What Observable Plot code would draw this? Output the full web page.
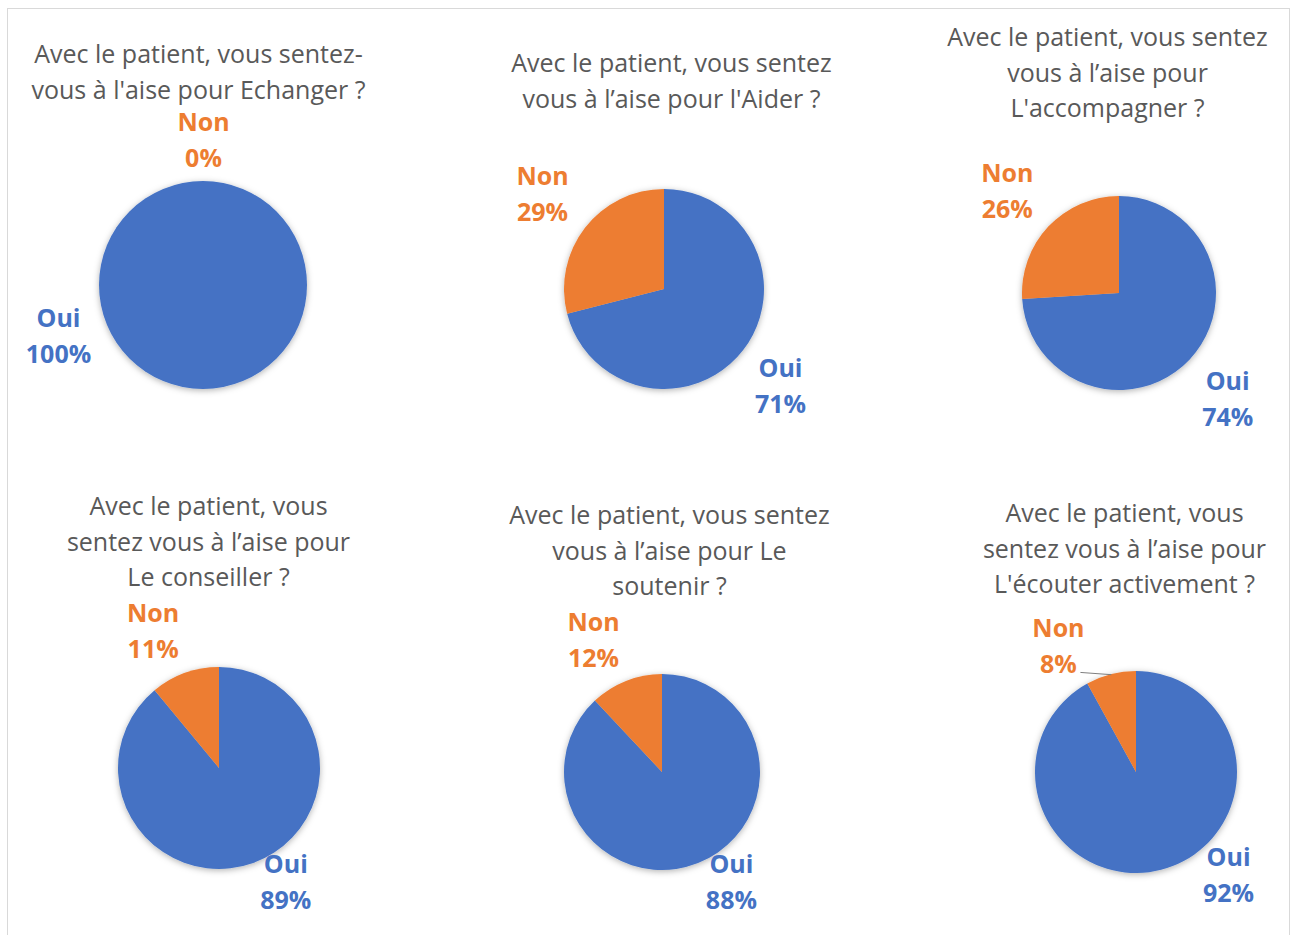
<!DOCTYPE html>
<html><head><meta charset="utf-8">
<script src="https://cdn.jsdelivr.net/npm/d3@7"></script>
<script src="https://cdn.jsdelivr.net/npm/@observablehq/plot@0.6"></script>
<style>body{margin:0;background:#fff}</style>
</head><body><div id="chart"></div>
<script>
// ---- data ----
const questions = [
  "Avec le patient, vous sentez-\nvous à l'aise pour Echanger ?",
  "Avec le patient, vous sentez\nvous à l’aise pour l'Aider ?",
  "Avec le patient, vous sentez\nvous à l’aise pour\nL'accompagner ?",
  "Avec le patient, vous\nsentez vous à l’aise pour\nLe conseiller ?",
  "Avec le patient, vous sentez\nvous à l’aise pour Le\nsoutenir ?",
  "Avec le patient, vous\nsentez vous à l’aise pour\nL'écouter activement ?"
];
const answers = ["Oui", "Non"];
const ouiPct = [100, 71, 74, 89, 88, 92];
const nonPct = [0, 29, 26, 11, 12, 8];

// ---- layout (panel geometry, not data) ----
const W = 1296, H = 935;
const panels = [
  {cx: 203, cy: 285, r: 104, tx: 198, ty: 73},
  {cx: 664, cy: 289, r: 100, tx: 671, ty: 82},
  {cx: 1119, cy: 293, r: 97, tx: 1107, ty: 74},
  {cx: 219, cy: 768, r: 101, tx: 208, ty: 543},
  {cx: 662, cy: 772, r: 98, tx: 669, ty: 552},
  {cx: 1136, cy: 772, r: 101, tx: 1124, ty: 550}
];
const labelGap = 24;          // distance of label box from the pie edge
const labelHalfW = 24, labelHalfH = 18;
const labelMaxY = H - 52;     // labels stay inside the chart area
const bestFitNudge = {
  "0-Oui": [-145, -94], "0-Non": [0, 2],
  "1-Oui": [-6, 4], "2-Oui": [-4, 6],
  "5-Non": [-23, 14], "5-Oui": [37, -7]
};
const withLeader = new Set(["5-Non"]);
const fontFamily = "'Open Sans', Lato, sans-serif";

// ---- build slices from data ----
const pie = d3.pie().sort(null).value(d => d.value);
const slices = [];
const labels = [];
const leaders = [];
panels.forEach((p, i) => {
  const arcs = pie(answers.map(a => ({answer: a, value: a === "Oui" ? ouiPct[i] : nonPct[i]})));
  arcs.forEach(a => {
    slices.push({...a, panel: i, answer: a.data.answer, cx: p.cx, cy: p.cy, r: p.r});
    const mid = (a.startAngle + a.endAngle) / 2;
    const dx = Math.sin(mid), dy = -Math.cos(mid);
    const sx = Math.abs(dx) < 0.05 ? 0 : Math.sign(dx);
    const sy = Math.abs(dy) < 0.05 ? 0 : Math.sign(dy);
    let x = p.cx + (p.r + labelGap) * dx + sx * labelHalfW;
    let y = Math.min(labelMaxY, p.cy + (p.r + labelGap) * dy + sy * labelHalfH);
    const key = `${i}-${a.data.answer}`;
    if (bestFitNudge[key]) { x += bestFitNudge[key][0]; y += bestFitNudge[key][1]; }
    labels.push({x, y, answer: a.data.answer, text: `${a.data.answer}\n${a.data.value}%`});
    if (withLeader.has(key)) {
      leaders.push({x1: x + 22, y1: y + 25, x2: p.cx + p.r * dx, y2: p.cy + p.r * dy});
    }
  });
});
const titles = panels.map((p, i) => ({x: p.tx, y: p.ty, text: questions[i]}));

// ---- custom pie mark drawn through Plot's scales ----
function pieMark(data) {
  return (index, scales) => {
    const g = d3.create("svg:g");
    const f = g.append("defs").append("filter").attr("id", "pieShadow")
      .attr("x", "-20%").attr("y", "-20%").attr("width", "140%").attr("height", "140%");
    f.append("feDropShadow").attr("dx", 0).attr("dy", 1.5).attr("stdDeviation", 3)
      .attr("flood-color", "#000").attr("flood-opacity", 0.3);
    const groups = d3.group(data, d => d.panel);
    for (const [, arr] of groups) {
      const s0 = arr[0];
      const gg = g.append("g").attr("filter", "url(#pieShadow)")
        .attr("transform", `translate(${scales.x(s0.cx)},${scales.y(s0.cy)})`);
      for (const s of arr) {
        if (s.endAngle - s.startAngle <= 0) continue;
        const arc = d3.arc().innerRadius(0).outerRadius(s.r);
        gg.append("path").attr("d", arc(s)).attr("fill", scales.color(s.answer));
      }
    }
    return g.node();
  };
}

const chart = Plot.plot({
  width: W, height: H,
  margin: 0,
  x: {domain: [0, W], range: [0, W], axis: null},
  y: {domain: [0, H], range: [0, H], axis: null},
  color: {domain: answers, range: ["#4472C4", "#ED7D31"]},
  style: {fontFamily, background: "#fff"},
  marks: [
    Plot.frame({stroke: "#d9d9d9", insetLeft: 7, insetTop: 8, insetRight: 7, insetBottom: -3}),
    pieMark(slices),
    Plot.link(leaders, {x1: "x1", y1: "y1", x2: "x2", y2: "y2", stroke: "#7f7f7f", strokeWidth: 1}),
    Plot.text(titles, {x: "x", y: "y", text: "text", fill: "#595959", fontSize: 25, lineHeight: 1.42, lineAnchor: "middle", textAnchor: "middle", dy: -4}),
    Plot.text(labels, {x: "x", y: "y", text: "text", fill: "answer", fontSize: 25, fontWeight: "bold", lineHeight: 1.44, lineAnchor: "middle", textAnchor: "middle", dy: -4})
  ]
});
document.getElementById("chart").append(chart);
</script>
</body></html>
